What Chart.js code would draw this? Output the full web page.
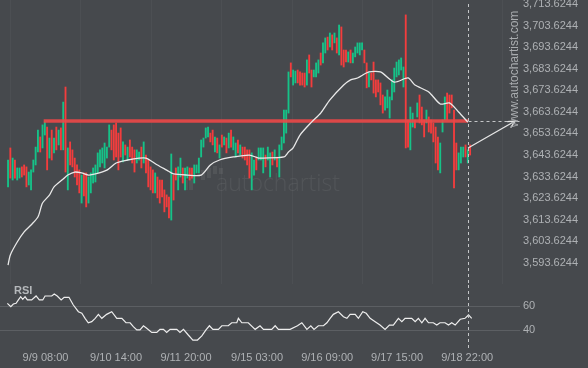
<!DOCTYPE html>
<html>
<head>
<meta charset="utf-8">
<script src="https://cdn.jsdelivr.net/npm/chart.js@4.4.1/dist/chart.umd.min.js"></script>
<style>
    html, body { margin: 0; padding: 0; background: #46494d; }
    #wrap { position: relative; width: 588px; height: 368px; overflow: hidden; background: #46494d; }
    #main { position: absolute; left: 0; top: 0; }
    #rsi { position: absolute; left: 0; top: 285px; }
</style>
</head>
<body>
<div id="wrap">
    <canvas id="main" width="588" height="284"></canvas>
    <canvas id="rsi" width="588" height="83"></canvas>
</div>
<script>
// --- hourly candles (high / low / direction) ---
const highs = [
    3641.3, 3646.9, 3642.2, 3641.3, 3637.6, 3637.6, 3638.1, 3639.0, 3638.1, 3635.7,
    3636.7, 3641.3, 3647.3, 3655.2, 3652.0, 3657.6, 3659.0, 3656.6, 3651.5, 3655.2,
    3651.5, 3656.6, 3655.2, 3656.2, 3668.2, 3675.2, 3646.9, 3649.7, 3646.0, 3642.2,
    3639.0, 3636.7, 3634.3, 3635.3, 3635.3, 3633.4, 3635.3, 3637.6, 3639.0, 3644.6,
    3646.0, 3646.9, 3649.2, 3647.3, 3657.6, 3655.2, 3657.6, 3658.5, 3653.8, 3656.2,
    3649.7, 3648.3, 3647.3, 3650.6, 3647.3, 3646.0, 3646.0, 3645.0, 3647.3, 3649.7,
    3643.6, 3641.3, 3638.1, 3636.7, 3635.3, 3633.4, 3632.0, 3632.0, 3627.4, 3625.1,
    3624.1, 3644.1, 3634.3, 3637.6, 3638.1, 3642.2, 3637.6, 3637.6, 3638.1, 3637.6,
    3637.6, 3639.0, 3639.0, 3642.2, 3650.6, 3651.5, 3656.2, 3656.6, 3653.8, 3655.2,
    3652.0, 3651.5, 3648.3, 3652.9, 3652.0, 3651.5, 3653.8, 3655.2, 3652.0, 3649.2,
    3650.6, 3648.3, 3647.3, 3647.3, 3646.0, 3646.0, 3644.6, 3641.3, 3642.7, 3646.9,
    3646.9, 3646.9, 3643.6, 3647.3, 3644.6, 3645.0, 3646.0, 3642.7, 3648.3, 3652.0,
    3664.5, 3664.5, 3682.2, 3686.4, 3683.1, 3682.6, 3683.1, 3682.2, 3681.7, 3681.7,
    3687.8, 3690.1, 3683.1, 3683.1, 3686.4, 3687.8, 3691.0, 3695.7, 3698.0, 3698.4,
    3700.3, 3699.4, 3700.3, 3698.0, 3704.0, 3703.1, 3692.4, 3692.4, 3691.5, 3692.4,
    3691.0, 3693.8, 3695.7, 3695.7, 3695.7, 3692.4, 3686.4, 3681.7, 3681.7, 3686.8,
    3678.5, 3678.5, 3677.1, 3671.5, 3670.6, 3673.8, 3670.6, 3678.5, 3684.0, 3686.8,
    3687.8, 3688.7, 3684.5, 3708.7, 3659.9, 3665.9, 3663.1, 3659.9, 3667.8, 3671.5,
    3665.9, 3659.9, 3664.5, 3661.3, 3659.9, 3658.5, 3656.6, 3652.0, 3649.2, 3659.9,
    3670.6, 3672.4, 3671.5, 3671.5, 3664.5, 3649.2, 3644.6, 3647.3, 3647.3, 3648.3,
    3646.0, 3648.3
];
const lows = [
    3628.8, 3632.9, 3632.0, 3632.9, 3632.0, 3632.9, 3633.4, 3634.3, 3628.8, 3629.7,
    3627.4, 3635.7, 3639.0, 3645.0, 3645.0, 3646.9, 3652.9, 3636.7, 3642.2, 3641.3,
    3644.6, 3646.0, 3648.3, 3646.0, 3646.0, 3635.7, 3627.4, 3639.0, 3638.1, 3633.4,
    3629.7, 3626.0, 3621.3, 3624.6, 3619.5, 3621.3, 3626.0, 3630.6, 3631.1, 3635.3,
    3638.1, 3639.9, 3637.6, 3642.2, 3647.3, 3646.0, 3641.3, 3642.7, 3636.7, 3642.7,
    3640.4, 3643.6, 3641.3, 3642.7, 3639.9, 3635.7, 3639.9, 3641.3, 3637.6, 3639.9,
    3635.3, 3628.8, 3627.4, 3626.0, 3626.0, 3623.7, 3621.3, 3624.1, 3617.2, 3619.5,
    3614.4, 3613.4, 3622.7, 3632.0, 3627.4, 3633.4, 3630.6, 3627.4, 3632.9, 3632.0,
    3632.9, 3630.6, 3635.3, 3635.3, 3642.7, 3647.3, 3651.5, 3652.0, 3649.7, 3648.3,
    3645.0, 3644.6, 3642.2, 3647.3, 3648.3, 3644.6, 3646.9, 3647.3, 3646.0, 3642.7,
    3644.6, 3643.6, 3642.2, 3641.3, 3639.0, 3632.9, 3627.4, 3634.3, 3636.7, 3641.3,
    3641.3, 3635.3, 3638.1, 3641.3, 3633.4, 3639.0, 3641.3, 3638.1, 3633.4, 3646.0,
    3649.2, 3653.8, 3663.1, 3679.9, 3676.1, 3677.1, 3677.1, 3676.1, 3676.1, 3675.2,
    3676.1, 3681.7, 3675.2, 3679.9, 3679.9, 3681.7, 3685.4, 3686.4, 3691.0, 3692.4,
    3693.8, 3692.4, 3695.7, 3691.0, 3690.1, 3685.4, 3684.5, 3686.8, 3686.8, 3686.4,
    3686.4, 3689.2, 3691.0, 3690.1, 3692.4, 3686.4, 3674.8, 3675.2, 3678.5, 3672.4,
    3670.6, 3672.9, 3666.9, 3663.1, 3664.5, 3665.5, 3660.8, 3669.2, 3672.9, 3679.9,
    3680.8, 3683.1, 3675.2, 3646.9, 3647.3, 3646.0, 3656.6, 3656.2, 3661.3, 3658.5,
    3657.6, 3652.0, 3658.5, 3654.3, 3653.8, 3649.7, 3639.9, 3636.7, 3635.3, 3654.3,
    3659.9, 3659.9, 3663.1, 3665.5, 3628.3, 3636.7, 3636.7, 3639.9, 3642.7, 3642.7,
    3639.9, 3643.6
];
// g = close above open, r = close below open
const candleDirs = (
    'grgrggrrrg' + 'ggggrggrgr' + 'grgrgrgrrr' + 'rrgrrggggg' + 'gggggrrrrr' +
    'grgrrrggrg' + 'rrrrgrrrrr' + 'rgrrggrggr' + 'rgggggggrr' + 'grgrgrgrgg' +
    'rgrrrrggrg' + 'ggrggrgrgg' + 'gggrggrrrr' + 'grrgggrggr' + 'grgrgrrrgr' +
    'gggggrrgrr' + 'rrrrgggggg' + 'gggrrggrgr' + 'rrgrrrrrgg' + 'grrrrrgggr' +
    'gr'
).split('');

// --- moving average (white line) ---
const maIdx = [0, 1, 4, 7, 10, 13, 15, 18, 20, 24, 26, 29, 32, 35, 38, 43, 47, 52, 57, 60,
    65, 69, 72, 78, 84, 88, 92, 98, 105, 109, 111, 120, 122, 124, 127, 132, 136, 140, 146, 149,
    152, 157, 162, 168, 174, 177, 183, 188, 192, 196, 200];
const maVals = [3592.5, 3597.2, 3603.2, 3607.9, 3611.1, 3614.8, 3621.3, 3625.0, 3628.8, 3632.5,
    3634.3, 3635.7, 3635.3, 3634.3, 3634.8, 3636.6, 3639.9, 3641.3, 3642.2, 3642.2,
    3639.0, 3636.6, 3634.8, 3634.3, 3634.3, 3639.0, 3641.3, 3642.7, 3643.6, 3642.2,
    3642.2, 3642.7, 3645.0, 3646.9, 3652.9, 3658.9, 3663.1, 3669.2, 3676.1, 3678.5,
    3679.4, 3682.2, 3682.2, 3677.5, 3679.4, 3676.1, 3672.9, 3667.3, 3667.8, 3663.6, 3658.9];

// --- RSI ---
const rsiIdx = [-0.3, 1.2, 2.3, 3.5, 4.5, 5.5, 6.4, 7.4, 8.4, 10.3, 12.2, 13.6, 15.1, 16.1, 19.0,
    20.1, 21.4, 23.1, 24.4, 26.5, 28.4, 30.6, 32.1, 33.5, 34.9, 36.4, 37.9, 39.3, 40.8, 42.9,
    45.1, 47.3, 49.5, 51.3, 53.1, 54.5, 56.0, 57.4, 58.9, 60.3, 62.5, 64.7, 66.1, 67.6, 69.0,
    70.5, 73.4, 74.8, 76.3, 78.4, 80.4, 82.4, 84.3, 86.1, 87.6, 89.1, 91.5, 93.0, 95.8, 97.3,
    99.5, 100.2, 101.7, 104.5, 107.5, 109.6, 111.1, 114.7, 116.2, 117.6, 122.7, 125.9, 127.8, 130.0, 131.7,
    133.1, 135.0, 137.2, 138.7, 140.1, 141.5, 143.7, 145.9, 147.4, 148.8, 151.0, 152.4, 154.3, 155.8, 157.5,
    159.7, 161.8, 164.0, 165.9, 167.6, 169.8, 171.3, 172.7, 175.6, 177.1, 178.5, 180.0, 181.4, 182.9, 185.0,
    186.5, 187.9, 190.1, 191.6, 193.0, 194.5, 196.7, 198.8, 200.3, 201.7];
const rsiVals = [62.5, 59.7, 61.9, 62.5, 65.3, 68.0, 65.8, 68.0, 65.3, 65.3, 68.6, 65.3, 65.3, 68.6, 68.6,
    70.3, 68.6, 65.3, 67.5, 67.5, 61.1, 55.5, 54.2, 50.0, 46.3, 47.2, 50.0, 53.3, 50.0, 53.3,
    55.5, 50.0, 50.0, 46.3, 46.3, 43.0, 40.3, 40.3, 43.8, 41.7, 38.3, 38.3, 40.8, 40.8, 38.3,
    40.8, 40.8, 38.3, 40.8, 36.1, 31.9, 31.9, 35.3, 40.3, 43.8, 40.8, 40.8, 43.8, 43.8, 46.3,
    46.3, 50.0, 46.3, 46.3, 40.8, 43.8, 40.8, 40.8, 43.8, 40.8, 40.8, 43.8, 46.3, 40.8, 43.8,
    40.8, 43.8, 43.8, 46.3, 50.0, 53.3, 55.5, 51.3, 50.0, 53.3, 53.3, 50.0, 55.5, 54.2, 50.0,
    47.2, 44.4, 40.8, 44.4, 44.4, 50.0, 47.2, 50.0, 50.0, 47.2, 50.0, 46.3, 50.0, 46.3, 46.3,
    44.4, 46.3, 46.3, 44.4, 46.3, 44.4, 49.2, 50.0, 52.8, 50.0];

// --- axes ---
const timeTickIdx = [16.3, 47.0, 77.4, 108.3, 138.8, 169.2, 199.7];
const timeTickLabels = ['9/9 08:00', '9/10 14:00', '9/11 20:00', '9/15 03:00', '9/16 09:00', '9/17 15:00', '9/18 22:00'];
const priceTicks = [3593.6244, 3603.6244, 3613.6244, 3623.6244, 3633.6244, 3643.6244,
    3653.6244, 3663.6244, 3673.6244, 3683.6244, 3693.6244, 3703.6244, 3713.6244];
const rsiTicks = [40, 60];

// --- pattern: level line, current bar, forecast arrow ---
const levelPrice = 3659.4;
const levelStart = 15.5;
const cursorIdx = 200.1;
const forecastFrom = { x: 200.1, y: 3646.9 };
const forecastTo = { x: 220.6, y: 3659.4 };

const X_MIN = -3.5, X_MAX = 222.7;
const UP = '#16c288';
const DOWN = '#f33d3d';
const TXT = '#aeb1b4';

Chart.defaults.font.family = '"Liberation Sans", Arial, sans-serif';
Chart.defaults.font.size = 11;

const fmtPrice = v => Number(v).toLocaleString('en-US', { minimumFractionDigits: 4, maximumFractionDigits: 4 });

// keep the plot area flush with the canvas (no room reserved for edge labels)
const fitRight = s => { s.width = 68; s.paddingTop = 0; s.paddingBottom = 0; };

const decorMain = {
    id: 'decorMain',
    beforeDatasetsDraw(chart) {
        const ctx = chart.ctx;
        ctx.save();
        // watermark
        ctx.fillStyle = 'rgba(255,255,255,0.065)';
        [[184, 180, 4, 10], [189, 176, 4, 14], [201, 170, 4, 10], [207, 168, 4, 10], [213, 166, 4, 8], [219, 168, 4, 6]]
            .forEach(r => ctx.fillRect(r[0], r[1], r[2], r[3]));
        ctx.font = '300 23px "Open Sans", sans-serif';
        ctx.textBaseline = 'alphabetic';
        ctx.fillText('autochartist', 216, 191);
        ctx.restore();
    },
    afterDatasetsDraw(chart) {
        const { ctx, chartArea, scales: { x, y } } = chart;
        ctx.save();
        ctx.strokeStyle = '#c4c6c8';
        ctx.lineWidth = 1;
        ctx.setLineDash([3, 3]);
        const cx = Math.round(x.getPixelForValue(cursorIdx)) + 0.5;
        ctx.beginPath();
        ctx.moveTo(cx, chartArea.top + 4);
        ctx.lineTo(cx, chartArea.bottom);
        ctx.stroke();
        const ly = Math.round(y.getPixelForValue(levelPrice)) + 0.5;
        ctx.beginPath();
        ctx.moveTo(cx, ly);
        ctx.lineTo(chartArea.right + 2, ly);
        ctx.stroke();
        ctx.setLineDash([]);
        // forecast arrow
        const x0 = x.getPixelForValue(forecastFrom.x), y0 = y.getPixelForValue(forecastFrom.y);
        const x1 = x.getPixelForValue(forecastTo.x), y1 = y.getPixelForValue(forecastTo.y);
        ctx.strokeStyle = '#e6e6e6';
        ctx.lineWidth = 1.3;
        ctx.beginPath();
        ctx.moveTo(x0, y0);
        ctx.lineTo(x1, y1);
        const a = Math.atan2(y1 - y0, x1 - x0);
        ctx.moveTo(x1 - 8 * Math.cos(a - 0.45), y1 - 8 * Math.sin(a - 0.45));
        ctx.lineTo(x1, y1);
        ctx.lineTo(x1 - 8 * Math.cos(a + 0.45), y1 - 8 * Math.sin(a + 0.45));
        ctx.stroke();
        // vertical site text
        ctx.translate(515, 69);
        ctx.rotate(-Math.PI / 2);
        ctx.fillStyle = '#a9acaf';
        ctx.font = '12px "Liberation Sans", Arial, sans-serif';
        ctx.textAlign = 'center';
        ctx.textBaseline = 'middle';
        ctx.fillText('www.autochartist.com', 0, 0);
        ctx.restore();
    }
};

new Chart(document.getElementById('main'), {
    type: 'bar',
    data: {
        datasets: [
            {
                type: 'line',
                data: maIdx.map((v, i) => ({ x: v, y: maVals[i] })),
                borderColor: '#e9e9e9',
                borderWidth: 1.3,
                pointRadius: 0,
                tension: 0.25,
                order: 1
            },
            {
                type: 'line',
                data: [{ x: levelStart, y: levelPrice }, { x: cursorIdx, y: levelPrice }],
                borderColor: 'rgba(236,72,72,0.9)',
                borderWidth: 3.5,
                pointRadius: 0,
                order: 2
            },
            {
                type: 'bar',
                data: highs.map((h, i) => ({ x: i, y: [lows[i], h] })),
                backgroundColor: candleDirs.map(d => d === 'g' ? UP : DOWN),
                barThickness: 1.2,
                borderWidth: 0,
                order: 3
            }
        ]
    },
    options: {
        responsive: false,
        animation: false,
        events: [],
        layout: { padding: 0 },
        plugins: { legend: { display: false }, tooltip: { enabled: false } },
        scales: {
            x: {
                type: 'linear',
                min: X_MIN,
                max: X_MAX,
                offset: false,
                afterBuildTicks: s => { s.ticks = timeTickIdx.map(v => ({ value: v })); },
                afterFit: s => { s.height = 0; s.paddingLeft = 0; s.paddingRight = 0; },
                ticks: { display: false },
                grid: { color: 'rgba(255,255,255,0.035)', drawTicks: false },
                border: { display: false }
            },
            y: {
                position: 'right',
                min: 3583.7,
                max: 3715.62,
                afterBuildTicks: s => { s.ticks = priceTicks.map(v => ({ value: v })); },
                afterFit: fitRight,
                ticks: { color: TXT, padding: 3, callback: v => fmtPrice(v) },
                grid: { display: false, drawTicks: false },
                border: { display: false }
            }
        }
    },
    plugins: [decorMain]
});

const decorRsi = {
    id: 'decorRsi',
    afterDatasetsDraw(chart) {
        const { ctx, chartArea, scales: { x } } = chart;
        ctx.save();
        ctx.strokeStyle = '#c4c6c8';
        ctx.lineWidth = 1;
        ctx.setLineDash([3, 3]);
        const cx = Math.round(x.getPixelForValue(cursorIdx)) + 0.5;
        ctx.beginPath();
        ctx.moveTo(cx, 0);
        ctx.lineTo(cx, chartArea.bottom + 3);
        ctx.stroke();
        ctx.fillStyle = '#b5b8bb';
        ctx.font = 'bold 11px "Liberation Sans", Arial, sans-serif';
        ctx.textBaseline = 'middle';
        ctx.fillText('RSI', 14, 6);
        ctx.restore();
    }
};

new Chart(document.getElementById('rsi'), {
    type: 'line',
    data: {
        datasets: [{
            data: rsiIdx.map((v, i) => ({ x: v, y: rsiVals[i] })),
            borderColor: '#eeeeee',
            borderWidth: 1.2,
            pointRadius: 0,
            tension: 0
        }]
    },
    options: {
        responsive: false,
        animation: false,
        events: [],
        layout: { padding: 0 },
        plugins: { legend: { display: false }, tooltip: { enabled: false } },
        scales: {
            x: {
                type: 'linear',
                min: X_MIN,
                max: X_MAX,
                offset: false,
                afterBuildTicks: s => { s.ticks = timeTickIdx.map(v => ({ value: v })); },
                afterFit: s => { s.height = 21; s.paddingLeft = 0; s.paddingRight = 0; },
                ticks: {
                    color: TXT,
                    padding: 4,
                    maxRotation: 0,
                    autoSkip: false,
                    callback: v => timeTickLabels[timeTickIdx.indexOf(v)] ?? ''
                },
                grid: { display: false, drawTicks: false },
                border: { display: false }
            },
            y: {
                position: 'right',
                min: 26.1,
                max: 77.75,
                afterBuildTicks: s => { s.ticks = rsiTicks.map(v => ({ value: v })); },
                afterFit: fitRight,
                ticks: { color: TXT, padding: 3 },
                grid: { color: '#5c5f63', drawTicks: false },
                border: { display: false }
            }
        }
    },
    plugins: [decorRsi]
});
</script>
</body>
</html>
